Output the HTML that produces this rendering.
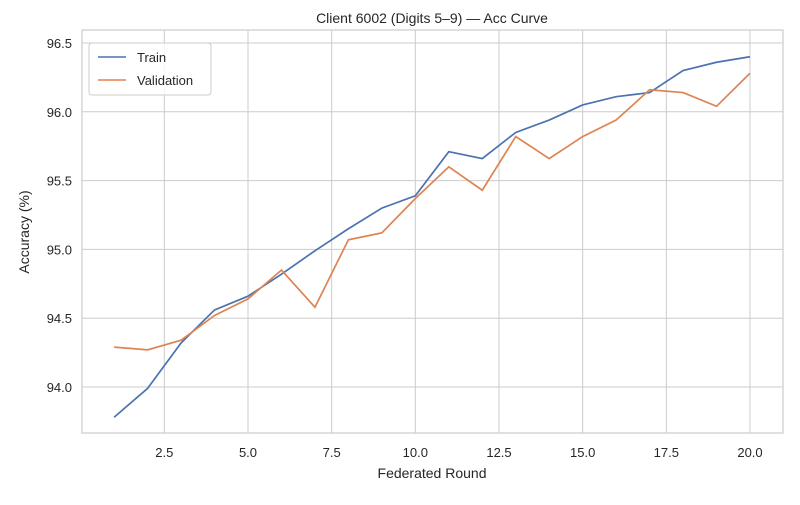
<!DOCTYPE html>
<html><head><meta charset="utf-8"><style>
body{margin:0;background:#fff;font-family:"Liberation Sans","DejaVu Sans",sans-serif}
</style></head><body>
<svg id="chart" width="800" height="500" xmlns="http://www.w3.org/2000/svg">
<rect width="800" height="500" fill="#fff"/>
<g id="grid"></g>
<rect x="82" y="30" width="701" height="403" fill="none" stroke="#ccc" stroke-width="1.2"/>
<g id="ticks" font-size="13" fill="#262626"></g>
<g id="lines"></g>
<text x="432" y="23" text-anchor="middle" font-size="14" fill="#262626">Client 6002 (Digits 5–9) — Acc Curve</text>
<text x="432" y="478" text-anchor="middle" font-size="14" fill="#262626">Federated Round</text>
<text transform="translate(29,232) rotate(-90)" text-anchor="middle" font-size="14" fill="#262626">Accuracy (%)</text>
<g>
<rect x="89" y="43" width="122" height="52" rx="3" fill="#fff" fill-opacity="0.8" stroke="#ccc"/>
<g><line x1="98" y1="57" x2="126" y2="57" stroke="#4c72b0" stroke-width="1.6"/><text x="137" y="62" font-size="13" fill="#262626">Train</text></g>
<g><line x1="98" y1="80" x2="126" y2="80" stroke="#dd8452" stroke-width="1.6"/><text x="137" y="85" font-size="13" fill="#262626">Validation</text></g>
</g>
</svg>
<script>
const rounds=[1,2,3,4,5,6,7,8,9,10,11,12,13,14,15,16,17,18,19,20];
const trainAcc=[93.78,93.99,94.32,94.56,94.66,94.82,94.99,95.15,95.30,95.39,95.71,95.66,95.85,95.94,96.05,96.11,96.14,96.30,96.36,96.40];
const valAcc=[94.29,94.27,94.34,94.52,94.64,94.85,94.58,95.07,95.12,95.37,95.60,95.43,95.82,95.66,95.82,95.94,96.16,96.14,96.04,96.28];
const xTicks=[2.5,5.0,7.5,10.0,12.5,15.0,17.5,20.0];
const yTicks=[94.0,94.5,95.0,95.5,96.0,96.5];
const NS="http://www.w3.org/2000/svg";
const X=v=>248+(v-5)*(750-248)/15;
const Y=v=>387-(v-94)*(387-43)/2.5;
const grid=document.getElementById('grid'),ticks=document.getElementById('ticks'),lines=document.getElementById('lines');
function mk(tag,attrs,parent){const e=document.createElementNS(NS,tag);for(const k in attrs)e.setAttribute(k,attrs[k]);parent.appendChild(e);return e;}
xTicks.forEach(t=>{
 const l=mk('line',{x1:X(t),x2:X(t),y1:30,y2:433,stroke:'#ccc','stroke-width':1},grid);
 
 
 const tx=mk('text',{x:X(t),y:457,'text-anchor':'middle'},ticks);tx.textContent=t.toFixed(1);
 
 
});
yTicks.forEach(t=>{
 const l=mk('line',{x1:82,x2:783,y1:Y(t),y2:Y(t),stroke:'#ccc','stroke-width':1},grid);
 
 
 const tx=mk('text',{x:72,y:Y(t)+5,'text-anchor':'end'},ticks);tx.textContent=t.toFixed(1);
 
 
});
function line(data,color,name){
 const p=mk('polyline',{points:rounds.map((r,i)=>X(r)+','+Y(data[i])).join(' '),fill:'none',stroke:color,'stroke-width':1.7},lines);
 
 
}
line(trainAcc,'#4c72b0','train-line');
line(valAcc,'#dd8452','validation-line');
</script>
</body></html>
